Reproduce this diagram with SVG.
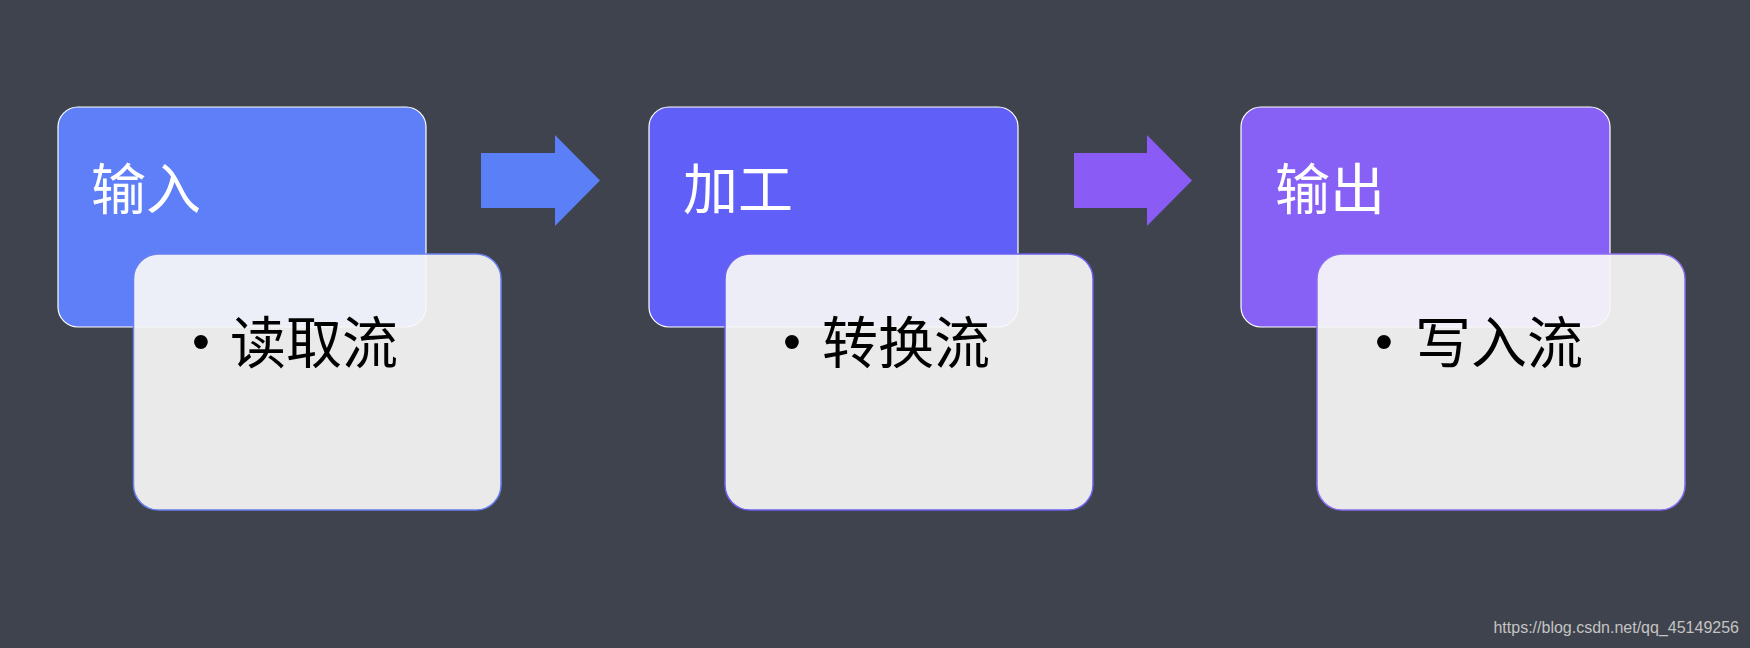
<svg xmlns="http://www.w3.org/2000/svg" width="1750" height="648" viewBox="0 0 1750 648">
<style>
.bg{fill:#3f434d}
.head{stroke:#ffffff;stroke-width:1.2}
.body{fill:#f8f8f8;fill-opacity:0.93;stroke-width:1.5}
.title{font-family:"Noto Sans CJK SC","Noto Sans",sans-serif;font-size:55px;fill:#ffffff}
.item{font-family:"Noto Sans CJK SC","Noto Sans",sans-serif;font-size:56px;fill:#000000}
.dot{font-family:"Liberation Sans",Arial,sans-serif;font-size:51px;fill:#000000}
.wm{font-family:"Liberation Sans",Arial,sans-serif;font-size:16px;fill:#c4c4c4}
</style>
<rect class="bg" x="0" y="0" width="1750" height="648"/>
<g id="connectors">
<polygon points="481,153 555,153 555,135 600,180.5 555,226 555,208 481,208" fill="#5b7ff6"/>
<polygon points="1074,153 1147,153 1147,135 1192,180.5 1147,226 1147,208 1074,208" fill="#8a5cf5"/>
</g>
<g id="node-input">
<rect class="head" x="58" y="107" width="368" height="220" rx="20" fill="#5e7ff8"/>
<text class="title" x="91" y="209">输入</text>
<rect class="body" x="133.5" y="254" width="367.5" height="256" rx="25" stroke="#6a80f0"/>
<text class="dot" x="192" y="359">•</text>
<text class="item" x="230" y="363">读取流</text>
</g>
<g id="node-process">
<rect class="head" x="649" y="107" width="369" height="220" rx="20" fill="#6060f8"/>
<text class="title" x="683" y="209">加工</text>
<rect class="body" x="725" y="254" width="368" height="256" rx="25" stroke="#6c60f0"/>
<text class="dot" x="783" y="359">•</text>
<text class="item" x="822" y="363">转换流</text>
</g>
<g id="node-output">
<rect class="head" x="1241" y="107" width="369" height="220" rx="20" fill="#8760f5"/>
<text class="title" x="1275" y="209">输出</text>
<rect class="body" x="1317" y="254" width="368" height="256" rx="25" stroke="#8a6ef0"/>
<text class="dot" x="1375" y="359">•</text>
<text class="item" x="1415" y="363">写入流</text>
</g>
<text class="wm" x="1739" y="633" text-anchor="end">https://blog.csdn.net/qq_45149256</text>
</svg>
